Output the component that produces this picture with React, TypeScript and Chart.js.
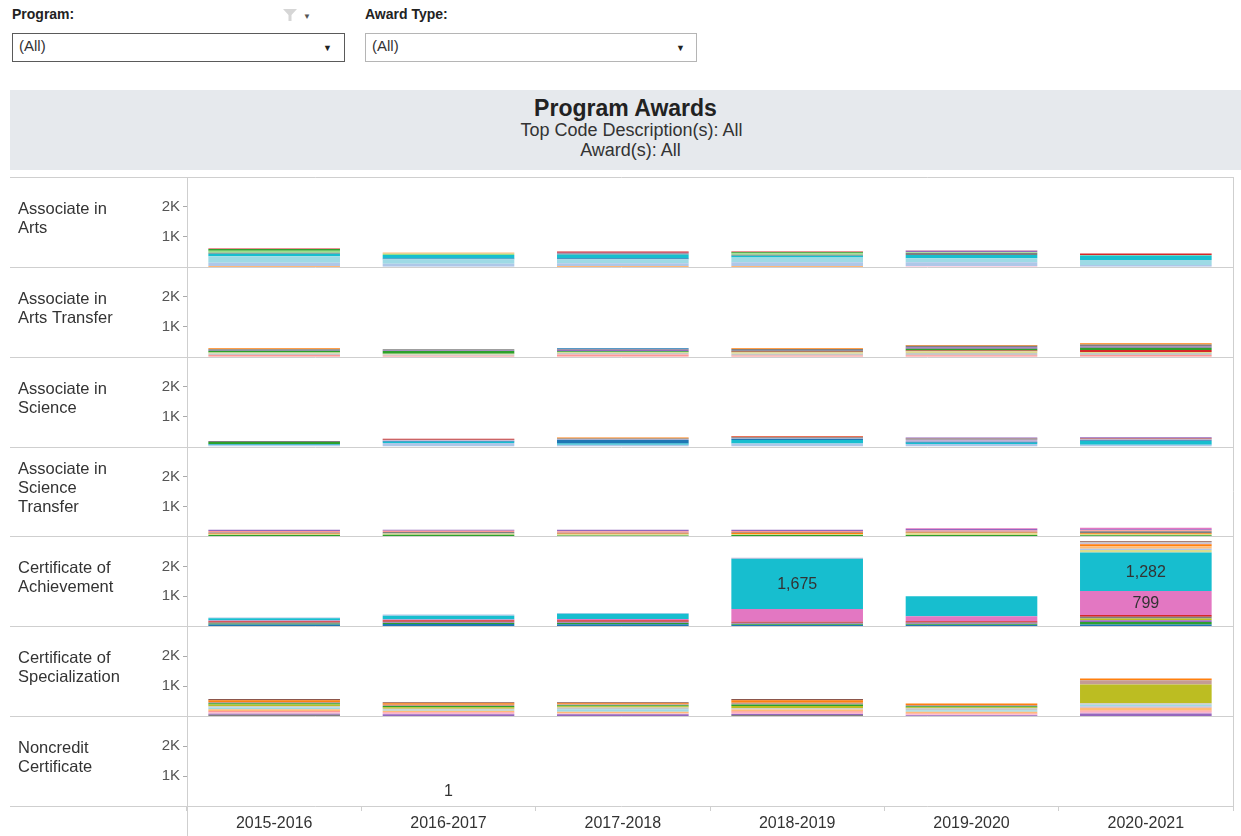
import React, { useEffect, useRef } from "react";
import { Chart, registerables } from "chart.js";

Chart.register(...registerables);

// ---------- data ----------
const years = ["2015-2016", "2016-2017", "2017-2018", "2018-2019", "2019-2020", "2020-2021"];

const awardTypes = [
  "Associate in Arts",
  "Associate in Arts Transfer",
  "Associate in Science",
  "Associate in Science Transfer",
  "Certificate of Achievement",
  "Certificate of Specialization",
  "Noncredit Certificate",
];

const awardHeaderLines = [
  ["Associate in", "Arts"],
  ["Associate in", "Arts Transfer"],
  ["Associate in", "Science"],
  ["Associate in", "Science", "Transfer"],
  ["Certificate of", "Achievement"],
  ["Certificate of", "Specialization"],
  ["Noncredit", "Certificate"],
];

const yTickValues = [1000, 2000];
const yTickLabels = ["1K", "2K"];

const programNames = [
  "Accounting", "Administration of Justice", "Automotive Technology", "Biology",
  "Business Administration", "Child Development", "Computer Information Systems", "Cosmetology",
  "Culinary Arts", "Emergency Medical Services", "Fire Technology", "General Studies",
  "Humanities", "Kinesiology", "Liberal Arts", "Mathematics",
  "Nursing", "Psychology", "Social Sciences", "Welding",
];

const programColors = [
  "#1f77b4", "#aec7e8", "#ff7f0e", "#ffbb78", "#2ca02c", "#98df8a", "#d62728", "#ff9896",
  "#9467bd", "#c5b0d5", "#8c564b", "#c49c94", "#e377c2", "#f7b6d2", "#7f7f7f", "#c7c7c7",
  "#bcbd22", "#dbdb8d", "#17becf", "#9edae5",
];

type Series = { program: number; values: number[] };

// each list is bottom -> top of the stacked bar
const associateArts: Series[] = [
  { program: 2, values: [25, 0, 30, 25, 0, 0] },
  { program: 13, values: [0, 0, 0, 0, 30, 0] },
  { program: 1, values: [110, 100, 90, 130, 120, 60] },
  { program: 19, values: [220, 150, 130, 160, 140, 170] },
  { program: 0, values: [0, 30, 40, 0, 0, 0] },
  { program: 18, values: [80, 120, 120, 60, 110, 150] },
  { program: 14, values: [40, 0, 40, 30, 60, 0] },
  { program: 5, values: [60, 40, 0, 50, 30, 20] },
  { program: 4, values: [60, 0, 0, 30, 0, 0] },
  { program: 3, values: [0, 40, 0, 0, 0, 0] },
  { program: 8, values: [0, 0, 25, 0, 50, 0] },
  { program: 6, values: [20, 0, 40, 30, 10, 50] },
];

const associateArtsTransfer: Series[] = [
  { program: 7, values: [60, 30, 70, 40, 50, 60] },
  { program: 15, values: [50, 40, 50, 60, 70, 60] },
  { program: 17, values: [30, 30, 30, 50, 60, 40] },
  { program: 6, values: [0, 0, 0, 20, 30, 60] },
  { program: 4, values: [60, 90, 30, 30, 60, 80] },
  { program: 8, values: [20, 20, 50, 20, 50, 40] },
  { program: 14, values: [30, 40, 30, 40, 50, 70] },
  { program: 2, values: [30, 0, 0, 20, 20, 40] },
  { program: 0, values: [0, 0, 20, 0, 0, 0] },
];

const associateScience: Series[] = [
  { program: 1, values: [40, 120, 60, 100, 90, 60] },
  { program: 18, values: [30, 40, 40, 120, 40, 130] },
  { program: 0, values: [20, 30, 130, 40, 30, 20] },
  { program: 9, values: [0, 20, 20, 20, 70, 30] },
  { program: 4, values: [60, 0, 0, 0, 0, 0] },
  { program: 14, values: [40, 20, 20, 30, 40, 20] },
  { program: 6, values: [0, 30, 0, 30, 10, 20] },
  { program: 8, values: [0, 0, 0, 0, 20, 30] },
  { program: 2, values: [0, 0, 30, 10, 0, 0] },
];

const associateScienceTransfer: Series[] = [
  { program: 4, values: [50, 60, 30, 50, 50, 40] },
  { program: 17, values: [30, 40, 40, 30, 60, 40] },
  { program: 2, values: [20, 0, 30, 40, 20, 30] },
  { program: 14, values: [30, 50, 20, 30, 30, 60] },
  { program: 7, values: [50, 40, 50, 30, 40, 40] },
  { program: 8, values: [40, 30, 50, 40, 50, 30] },
  { program: 12, values: [0, 0, 0, 0, 20, 50] },
];

const certAchievement: Series[] = [
  { program: 0, values: [60, 80, 70, 40, 40, 60] },
  { program: 4, values: [30, 30, 40, 30, 30, 80] },
  { program: 8, values: [20, 20, 20, 20, 20, 60] },
  { program: 16, values: [0, 0, 0, 0, 0, 60] },
  { program: 14, values: [20, 20, 20, 30, 40, 60] },
  { program: 6, values: [40, 50, 55, 30, 36, 60] },
  { program: 12, values: [20, 30, 40, 430, 167, 799] },
  { program: 18, values: [80, 120, 170, 1675, 667, 1282] },
  { program: 17, values: [0, 0, 0, 0, 0, 90] },
  { program: 1, values: [20, 40, 30, 0, 0, 40] },
  { program: 3, values: [0, 0, 0, 0, 0, 80] },
  { program: 2, values: [0, 0, 0, 0, 0, 70] },
  { program: 9, values: [0, 0, 0, 35, 0, 30] },
  { program: 15, values: [0, 0, 0, 0, 0, 40] },
  { program: 10, values: [0, 0, 0, 0, 0, 30] },
];

const certSpecialization: Series[] = [
  { program: 14, values: [50, 0, 0, 40, 0, 0] },
  { program: 8, values: [30, 60, 60, 30, 30, 90] },
  { program: 13, values: [40, 50, 30, 40, 30, 60] },
  { program: 7, values: [50, 30, 0, 50, 30, 40] },
  { program: 3, values: [60, 40, 60, 60, 60, 90] },
  { program: 9, values: [0, 0, 0, 0, 0, 40] },
  { program: 19, values: [60, 30, 80, 0, 50, 60] },
  { program: 15, values: [40, 40, 60, 40, 60, 50] },
  { program: 16, values: [60, 50, 40, 80, 40, 630] },
  { program: 4, values: [40, 40, 30, 50, 30, 0] },
  { program: 11, values: [40, 40, 40, 60, 40, 140] },
  { program: 2, values: [60, 50, 30, 80, 50, 60] },
  { program: 10, values: [40, 30, 30, 40, 0, 0] },
];

const noncreditCert: Series[] = [
  { program: 18, values: [0, 1, 0, 0, 0, 0] },
];

const rowSeries = [
  associateArts,
  associateArtsTransfer,
  associateScience,
  associateScienceTransfer,
  certAchievement,
  certSpecialization,
  noncreditCert,
];

// ---------- styling ----------
const FONT = '"Liberation Sans", Arial, Helvetica, sans-serif';
const LINE = "#cfcfcf";

const fmt = (v: number) => v.toLocaleString("en-US");

const panelPlugin = {
  id: "panelDecor",
  afterDraw(chart: any) {
    const { ctx, chartArea } = chart;
    ctx.save();
    ctx.strokeStyle = LINE;
    ctx.lineWidth = 1;
    ctx.beginPath();
    const topY = Math.round(chartArea.top) + 0.5;
    ctx.moveTo(0, topY);
    ctx.lineTo(chartArea.right, topY);
    rowSeries.forEach((_, r) => {
      const s = chart.scales["y" + r];
      const y = Math.round(s.bottom) + 0.5;
      ctx.moveTo(0, y);
      ctx.lineTo(chartArea.right, y);
    });
    const lx = Math.round(chartArea.left) + 0.5;
    ctx.moveTo(lx, chartArea.top);
    ctx.lineTo(lx, chart.height);
    const rx = Math.round(chartArea.right) + 0.5;
    ctx.moveTo(rx, chartArea.top);
    ctx.lineTo(rx, chartArea.bottom);
    ctx.stroke();

    // row headers
    ctx.fillStyle = "#333";
    ctx.font = `16.5px ${FONT}`;
    ctx.textAlign = "left";
    ctx.textBaseline = "middle";
    awardHeaderLines.forEach((lines, r) => {
      const s = chart.scales["y" + r];
      const mid = (s.top + s.bottom) / 2 - 3;
      const lh = 19;
      const start = mid - ((lines.length - 1) * lh) / 2;
      lines.forEach((t, i) => ctx.fillText(t, 8, start + i * lh));
    });

    // value labels
    ctx.font = `16px ${FONT}`;
    ctx.fillStyle = "#333";
    ctx.textAlign = "center";
    chart.data.datasets.forEach((ds: any, di: number) => {
      const meta = chart.getDatasetMeta(di);
      ds.data.forEach((v: number, i: number) => {
        const el = meta.data[i];
        if (!el) return;
        const { x, y, base } = el.getProps(["x", "y", "base"], true);
        if (v >= 700) {
          ctx.textBaseline = "middle";
          ctx.fillText(fmt(v), x, (y + base) / 2 + 1);
        } else if (ds.rowTotalSmall && v > 0) {
          ctx.textBaseline = "bottom";
          ctx.fillText(fmt(v), x, y - 6);
        }
      });
    });
    ctx.restore();
  },
};

export default function App() {
  const ref = useRef<HTMLCanvasElement>(null);

  useEffect(() => {
    const datasets: any[] = [];
    rowSeries.forEach((list, r) => {
      const totals = years.map((_, i) => list.reduce((a, s) => a + s.values[i], 0));
      const small = totals.every((t) => t < 50);
      list.forEach((s) => {
        datasets.push({
          label: programNames[s.program],
          data: s.values,
          backgroundColor: programColors[s.program],
          borderWidth: 0,
          yAxisID: "y" + r,
          stack: "row" + r,
          grouped: false,
          categoryPercentage: 1,
          barPercentage: 0.755,
          rowTotalSmall: small,
        });
      });
    });

    const scales: any = {
      x: {
        type: "category",
        offset: true,
        grid: {
          display: true,
          offset: true,
          drawOnChartArea: false,
          drawTicks: true,
          tickLength: 5,
          color: LINE,
        },
        border: { display: false },
        ticks: {
          font: { family: FONT, size: 16 },
          color: "#333",
          padding: 3,
          maxRotation: 0,
          autoSkip: false,
        },
        afterFit: (s: any) => {
          s.height = 30;
        },
      },
    };
    rowSeries.forEach((_, r) => {
      scales["y" + r] = {
        type: "linear",
        position: "left",
        stack: "rows",
        stackWeight: 1,
        weight: rowSeries.length - r,
        stacked: true,
        min: 0,
        max: 3000,
        grid: {
          display: true,
          drawOnChartArea: false,
          drawTicks: true,
          tickLength: 4,
          color: "#aaa",
        },
        border: { display: false },
        ticks: {
          stepSize: 1000,
          font: { family: FONT, size: 15 },
          color: "#555",
          padding: 3,
          callback: (v: number) => {
            const k = yTickValues.indexOf(v);
            return k >= 0 ? yTickLabels[k] : null;
          },
        },
        afterFit: (s: any) => {
          s.width = 177;
        },
      };
    });

    const chart = new Chart(ref.current as HTMLCanvasElement, {
      type: "bar",
      data: { labels: years, datasets },
      options: {
        animation: false,
        responsive: false,
        maintainAspectRatio: false,
        layout: { padding: { top: 6, right: 8, bottom: 0, left: 0 } },
        plugins: { legend: { display: false }, tooltip: { enabled: false } },
        scales,
      },
      plugins: [panelPlugin],
    } as any);
    return () => chart.destroy();
  }, []);

  const label: React.CSSProperties = {
    position: "absolute",
    fontSize: 14,
    fontWeight: "bold",
    color: "#222",
    lineHeight: "18px",
    whiteSpace: "nowrap",
  };
  const box: React.CSSProperties = {
    position: "absolute",
    top: 33,
    height: 29,
    boxSizing: "border-box",
    background: "#fff",
  };
  const boxText: React.CSSProperties = {
    position: "absolute",
    left: 6,
    top: 2,
    fontSize: 15,
    lineHeight: "20px",
    color: "#333",
  };
  const arrow: React.CSSProperties = {
    position: "absolute",
    top: 8,
    fontSize: 9,
    lineHeight: "12px",
    color: "#222",
  };

  return (
    <div
      style={{
        position: "fixed",
        left: 0,
        top: 0,
        width: 1241,
        height: 836,
        background: "#fff",
        fontFamily: FONT,
        color: "#333",
        overflow: "hidden",
      }}
    >
      <div style={{ ...label, left: 12, top: 5 }}>Program:</div>
      <svg style={{ position: "absolute", left: 283, top: 9 }} width="14" height="12" viewBox="0 0 14 12">
        <polygon points="0,0 14,0 8.5,6 8.5,12 5.5,12 5.5,6" fill="#d6d6d6" />
      </svg>
      <div style={{ position: "absolute", left: 303, top: 12, fontSize: 8, lineHeight: "10px", color: "#555" }}>▼</div>
      <div style={{ ...label, left: 365, top: 5 }}>Award Type:</div>

      <div style={{ ...box, left: 12, width: 333, border: "1px solid #5a5a5a" }}>
        <div style={boxText}>(All)</div>
        <div style={{ ...arrow, left: 310 }}>▼</div>
      </div>
      <div style={{ ...box, left: 365, width: 332, border: "1px solid #b5b5b5" }}>
        <div style={boxText}>(All)</div>
        <div style={{ ...arrow, left: 310 }}>▼</div>
      </div>

      <div
        style={{
          position: "absolute",
          left: 10,
          top: 90,
          width: 1231,
          height: 80,
          background: "#e6e9ed",
          textAlign: "center",
          color: "#222",
        }}
      >
        <div style={{ position: "absolute", left: 0, right: 0, top: 5, fontSize: 23, fontWeight: "bold", lineHeight: "26px" }}>
          Program Awards
        </div>
        <div style={{ position: "absolute", left: 12, right: 0, top: 30, fontSize: 18, lineHeight: "20px", color: "#333" }}>
          Top Code Description(s): All
        </div>
        <div style={{ position: "absolute", left: 10, right: 0, top: 50, fontSize: 18, lineHeight: "20px", color: "#333" }}>
          Award(s): All
        </div>
      </div>

      <canvas
        ref={ref}
        width={1231}
        height={671}
        style={{ position: "absolute", left: 10, top: 165, width: 1231, height: 671 }}
      />
    </div>
  );
}
